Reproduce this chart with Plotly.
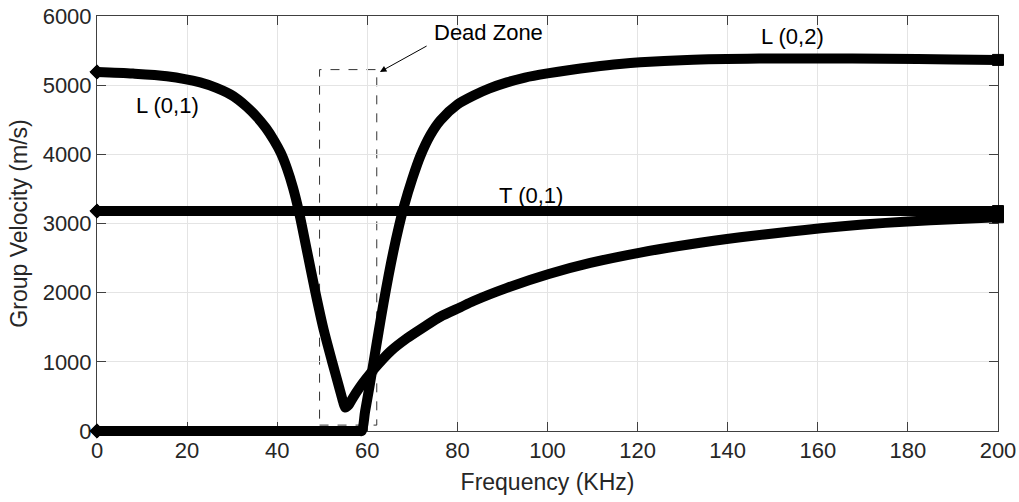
import plotly.graph_objects as go

# ---------------- data ----------------
L01_F = [0, 8, 15.5, 22.9, 26.5, 30.3, 33.2, 35.5, 37.5, 39.3, 40.8, 42.2, 43.5, 44.8, 46.5, 48.5, 50.3,
         52.2, 53.8, 54.6, 55.1, 55.8, 56.8, 58.2, 59.8, 61.4, 65.1, 68.8, 72.5, 76.2, 80.7, 83.6, 91,
         100.3, 109.5, 120.6, 131.7, 142.8, 154, 160.7, 170, 180, 190, 200]
L01_V = [5190, 5168, 5130, 5040, 4960, 4840, 4690, 4540, 4380, 4200, 4020, 3790, 3520, 3180, 2640, 2000, 1470,
         1000, 620, 430, 340, 370, 480, 620, 760, 890, 1150, 1340, 1500, 1652, 1790, 1880, 2070,
         2270, 2430, 2580, 2700, 2800, 2885, 2930, 2985, 3030, 3062, 3090]

L02_F = [0, 20, 40, 58.3, 58.8, 59.5, 60.5, 61.4, 62.5, 63.6, 64.7, 65.8, 67, 68.1, 70, 71.8, 74, 76.2,
         80, 83.6, 87, 91, 95, 100, 105, 110, 116, 120.6, 131, 147, 160, 175, 190, 200]
L02_V = [0, 0, 0, 0, 0, 280, 650, 1000, 1430, 1850, 2240, 2600, 2950, 3240, 3650, 3980, 4280, 4490,
         4720, 4850, 4950, 5040, 5110, 5170, 5220, 5262, 5305, 5330, 5365, 5385, 5387, 5382, 5372, 5365]

T01_F = [0, 50, 100, 150, 200]
T01_V = [3180, 3180, 3180, 3180, 3180]

X_TICKS = list(range(0, 201, 20))
Y_TICKS = list(range(0, 6001, 1000))
X_RANGE = [0, 200]
Y_RANGE = [0, 6000]

LABELS = ["L (0,1)", "L (0,2)", "T (0,1)", "Dead Zone"]
LABEL_F = [15.6, 154.3, 96.4, 87]
LABEL_V = [4711, 5698, 3410, 5756]

DEAD_ZONE_F = [49.4, 62.1]
DEAD_ZONE_V = [85, 5225]
ARROW_HEAD = (62.8, 5192)
ARROW_TAIL = (73.5, 5578)

# ---------------- layout geometry ----------------
W, H = 1019, 502
PAD = 6                                   # overflow in px so thick marks are not clipped
ML, MR, MT, MB = 97 - PAD, 21 - PAD, 16, 71 - PAD
pw = W - ML - MR
ph = H - MT - MB
ax_w = pw - 2 * PAD
ax_h = ph - PAD
x_per_px = (X_RANGE[1] - X_RANGE[0]) / ax_w
y_per_px = (Y_RANGE[1] - Y_RANGE[0]) / ax_h
X2_RANGE = [X_RANGE[0] - PAD * x_per_px, X_RANGE[1] + PAD * x_per_px]
Y2_RANGE = [Y_RANGE[0] - PAD * y_per_px, Y_RANGE[1]]

FONT = "Liberation Sans, Arial, Helvetica, sans-serif"
TXT = "#262626"
AXC = "#404040"
GRID = "#e4e4e4"

fig = go.Figure()

def curve(f, v, shape):
    n = len(f)
    sizes = [11 if i in (0, n - 1) else 0 for i in range(n)]
    symbols = ["diamond" if i == 0 else "square" for i in range(n)]
    fig.add_trace(go.Scatter(
        x=f, y=v, mode="lines+markers", xaxis="x2", yaxis="y2",
        line=dict(color="black", width=10, shape=shape, smoothing=0.8),
        marker=dict(symbol=symbols, size=sizes, color="black", opacity=1,
                    line=dict(color="black", width=1)),
        cliponaxis=False, showlegend=False, hoverinfo="skip"))

curve(T01_F, T01_V, "linear")
curve(L01_F, L01_V, "spline")
curve(L02_F, L02_V, "spline")

axis_common = dict(
    showline=True, linecolor=AXC, linewidth=1, mirror="ticks",
    ticks="inside", ticklen=9, tickcolor=AXC, tickwidth=1,
    showgrid=True, gridcolor=GRID, gridwidth=1, zeroline=False, automargin=False,
    ticklabeloverflow="allow",
    tickfont=dict(family=FONT, size=22, color=TXT),
    title_font=dict(family=FONT, size=23, color=TXT),
)

fig.update_layout(
    width=W, height=H,
    margin=dict(l=ML, r=MR, t=MT, b=MB, autoexpand=False),
    paper_bgcolor="white", plot_bgcolor="rgba(0,0,0,0)",
    xaxis=dict(domain=[PAD / pw, 1 - PAD / pw], range=X_RANGE, tickvals=X_TICKS,
               title=dict(text="Frequency (KHz)", standoff=11), anchor="y", **axis_common),
    yaxis=dict(domain=[PAD / ph, 1], range=Y_RANGE, tickvals=Y_TICKS,
               title=dict(text="Group Velocity (m/s)", standoff=8), anchor="x", **axis_common),
    xaxis2=dict(domain=[0, 1], range=X2_RANGE, visible=False, anchor="y2", fixedrange=True),
    yaxis2=dict(domain=[0, 1], range=Y2_RANGE, visible=False, anchor="x2", fixedrange=True),
)

fig.add_shape(type="rect", xref="x", yref="y",
              x0=DEAD_ZONE_F[0], x1=DEAD_ZONE_F[1], y0=DEAD_ZONE_V[0], y1=DEAD_ZONE_V[1],
              line=dict(color="#333333", width=1, dash="dash"), layer="below")

for t, fx, vy in zip(LABELS, LABEL_F, LABEL_V):
    fig.add_annotation(x=fx, y=vy, xref="x", yref="y", text=t, showarrow=False,
                       font=dict(family=FONT, size=22, color="black"))

fig.add_annotation(x=ARROW_HEAD[0], y=ARROW_HEAD[1], xref="x", yref="y",
                   ax=ARROW_TAIL[0], ay=ARROW_TAIL[1], axref="x", ayref="y",
                   text="", showarrow=True, arrowhead=2, arrowsize=1.3, arrowwidth=1,
                   arrowcolor="black")

fig.write_html("out.html",
               config={"displayModeBar": False},
               post_script="document.body.style.margin='0';document.body.style.overflow='hidden';")
